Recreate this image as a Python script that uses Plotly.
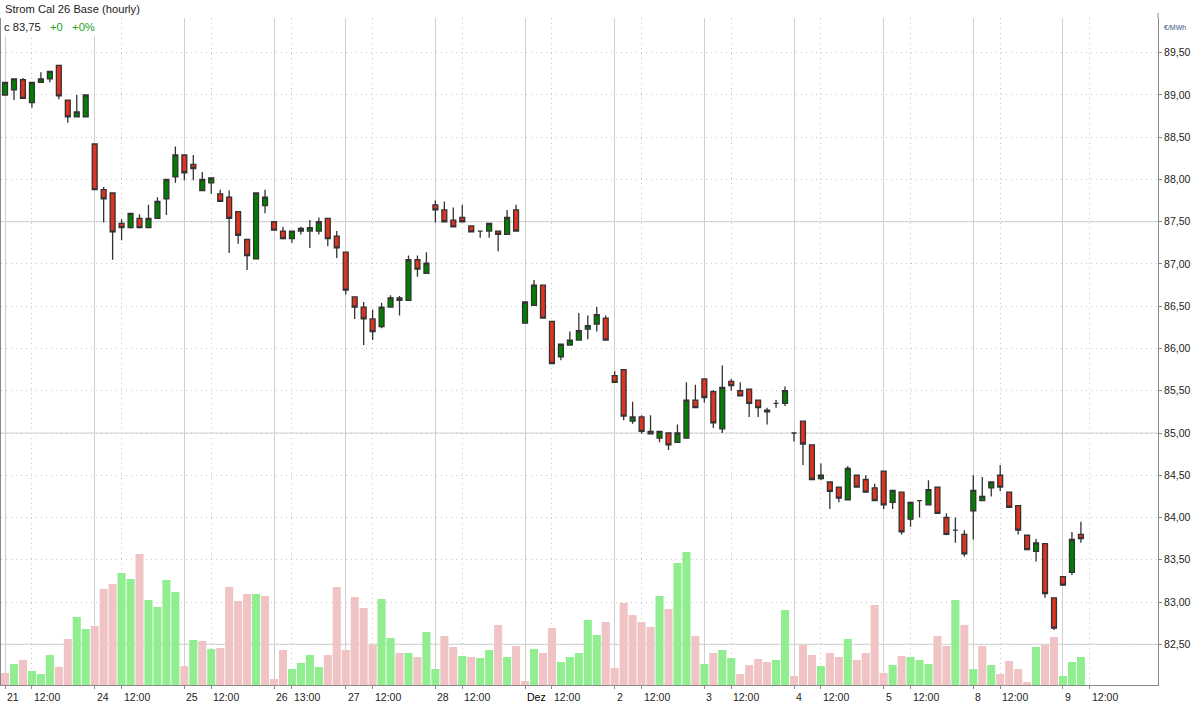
import plotly.graph_objects as go

# ---------------- data ----------------
title_text = "Strom Cal 26 Base (hourly)"
unit_text = "€/MWh"
last_close_label = "c 83,75"
change_abs_label = "+0"
change_pct_label = "+0%"

day_labels = ["21", "24", "25", "26", "27", "28", "Dez", "2", "3", "4", "5", "8", "9"]
day_dates = ["2025-11-21", "2025-11-24", "2025-11-25", "2025-11-26", "2025-11-27",
             "2025-11-28", "2025-12-01", "2025-12-02", "2025-12-03", "2025-12-04",
             "2025-12-05", "2025-12-08", "2025-12-09"]
first_hour = [9, 9, 9, 11, 9, 9, 9, 9, 9, 9, 9, 9, 9]
bars_per_day = [10, 10, 10, 8, 10, 10, 10, 10, 10, 10, 10, 10, 3]
mid_labels = ["12:00", "12:00", "12:00", "13:00", "12:00", "12:00", "12:00",
              "12:00", "12:00", "12:00", "12:00", "12:00", "12:00"]

price_ticks = [82.5, 83.0, 83.5, 84.0, 84.5, 85.0, 85.5, 86.0, 86.5, 87.0, 87.5, 88.0, 88.5, 89.0, 89.5]
price_ticktext = ["82,50", "83,00", "83,50", "84,00", "84,50", "85,00", "85,50", "86,00",
                  "86,50", "87,00", "87,50", "88,00", "88,50", "89,00", "89,50"]
major_price_levels = [82.5, 85.0, 87.5]

prev_close = 89.20

open_ = [
    89.00, 89.06, 89.18, 88.91, 89.15, 89.19, 89.35, 88.94, 88.74, 88.74,
    88.42, 87.88, 87.84, 87.48, 87.43, 87.54, 87.43, 87.54, 87.77, 88.03,
    88.29, 88.18, 87.87, 87.96, 87.83, 87.79, 87.62, 87.29, 87.06, 87.69,
    87.50, 87.39, 87.30, 87.39, 87.39, 87.39, 87.54, 87.33,
    87.14, 86.61, 86.49, 86.35, 86.26, 86.49, 86.60, 86.57, 87.05, 86.89,
    87.70, 87.64, 87.52, 87.55, 87.45, 87.39, 87.39, 87.39, 87.35, 87.64,
    86.30, 86.51, 86.75, 86.32, 85.90, 86.04, 86.10, 86.23, 86.29, 86.36,
    85.68, 85.75, 85.14, 85.19, 85.02, 84.94, 85.00, 84.89, 84.94, 85.39,
    85.64, 85.49, 85.05, 85.61, 85.50, 85.52, 85.39, 85.27, 85.35, 85.35,
    85.00, 85.14, 84.86, 84.46, 84.42, 84.36, 84.21, 84.50, 84.45, 84.35,
    84.55, 84.18, 84.30, 83.98, 84.20, 84.15, 84.36, 84.00, 83.85, 83.80,
    84.08, 84.20, 84.35, 84.50, 84.30, 84.14, 83.79, 83.60, 83.69, 83.05,
    83.30, 83.35, 83.80,
]
high = [
    89.15, 89.19, 89.20, 89.15, 89.27, 89.28, 89.35, 88.94, 89.00, 89.00,
    88.42, 87.91, 87.84, 87.53, 87.60, 87.59, 87.70, 87.79, 88.00, 88.39,
    88.29, 88.29, 88.09, 88.02, 87.88, 87.87, 87.62, 87.29, 87.84, 87.88,
    87.50, 87.44, 87.39, 87.44, 87.52, 87.55, 87.54, 87.39,
    87.14, 86.61, 86.55, 86.46, 86.54, 86.63, 86.62, 87.10, 87.10, 87.14,
    87.75, 87.74, 87.67, 87.70, 87.45, 87.39, 87.48, 87.39, 87.64, 87.70,
    86.55, 86.81, 86.75, 86.32, 86.05, 86.20, 86.42, 86.39, 86.49, 86.39,
    85.73, 85.75, 85.37, 85.21, 85.21, 85.02, 85.00, 85.10, 85.60, 85.57,
    85.64, 85.51, 85.80, 85.64, 85.60, 85.52, 85.39, 85.30, 85.39, 85.55,
    85.00, 85.14, 84.86, 84.64, 84.42, 84.36, 84.61, 84.50, 84.50, 84.40,
    84.55, 84.32, 84.30, 84.19, 84.20, 84.44, 84.36, 84.05, 84.00, 83.85,
    84.50, 84.48, 84.42, 84.62, 84.30, 84.14, 83.79, 83.75, 83.69, 83.05,
    83.30, 83.83, 83.95,
]
low = [
    89.00, 88.94, 88.96, 88.85, 89.15, 89.15, 88.95, 88.67, 88.74, 88.74,
    87.88, 87.49, 87.05, 87.28, 87.42, 87.42, 87.43, 87.54, 87.58, 87.96,
    87.99, 87.99, 87.87, 87.83, 87.74, 87.13, 87.24, 86.93, 87.06, 87.60,
    87.40, 87.29, 87.25, 87.35, 87.19, 87.35, 87.21, 87.07,
    86.64, 86.35, 86.04, 86.10, 86.24, 86.49, 86.39, 86.57, 86.85, 86.89,
    87.49, 87.50, 87.44, 87.50, 87.38, 87.31, 87.31, 87.15, 87.35, 87.39,
    86.30, 86.51, 86.36, 85.82, 85.86, 86.04, 86.10, 86.11, 86.20, 86.10,
    85.60, 85.15, 85.11, 84.99, 84.99, 84.89, 84.80, 84.89, 84.94, 85.30,
    85.36, 85.06, 85.00, 85.50, 85.44, 85.19, 85.19, 85.10, 85.30, 85.32,
    84.90, 84.62, 84.45, 84.44, 84.10, 84.18, 84.20, 84.36, 84.30, 84.20,
    84.10, 84.10, 83.80, 83.89, 84.00, 84.15, 84.05, 83.79, 83.70, 83.54,
    83.74, 84.20, 84.25, 84.31, 84.12, 83.80, 83.62, 83.48, 83.05, 82.67,
    83.19, 83.32, 83.70,
]
close = [
    89.15, 89.19, 88.96, 89.15, 89.19, 89.28, 88.99, 88.74, 88.80, 89.00,
    87.88, 87.77, 87.38, 87.43, 87.60, 87.43, 87.54, 87.74, 88.00, 88.29,
    88.08, 88.13, 88.00, 88.02, 87.74, 87.54, 87.34, 87.10, 87.84, 87.79,
    87.40, 87.30, 87.39, 87.42, 87.43, 87.50, 87.30, 87.19,
    86.69, 86.49, 86.35, 86.20, 86.49, 86.60, 86.57, 87.05, 86.94, 87.01,
    87.64, 87.50, 87.44, 87.50, 87.38, 87.39, 87.48, 87.35, 87.55, 87.39,
    86.55, 86.75, 86.36, 85.82, 86.05, 86.10, 86.21, 86.27, 86.40, 86.10,
    85.60, 85.20, 85.19, 85.02, 84.99, 85.02, 84.86, 85.00, 85.39, 85.30,
    85.42, 85.12, 85.54, 85.56, 85.44, 85.35, 85.30, 85.25, 85.35, 85.50,
    85.00, 84.87, 84.45, 84.50, 84.31, 84.23, 84.58, 84.36, 84.30, 84.20,
    84.15, 84.32, 83.83, 84.18, 84.20, 84.33, 84.05, 83.80, 83.85, 83.57,
    84.32, 84.25, 84.42, 84.36, 84.12, 83.85, 83.62, 83.70, 83.10, 82.69,
    83.20, 83.74, 83.75,
]
volume = [
    12, 21, 25, 14, 11, 30, 18, 46, 68, 56,
    59, 96, 101, 112, 106, 131, 85, 78, 105, 93,
    19, 45, 44, 36, 37, 98, 84, 91, 91, 89,
    6, 35, 16, 22, 30, 18, 30, 98,
    35, 88, 77, 40, 86, 47, 32, 32, 28, 53,
    16, 49, 38, 29, 28, 27, 35, 60, 28, 39,
    4, 36, 32, 57, 23, 28, 32, 65, 50, 63,
    17, 82, 70, 63, 58, 89, 76, 122, 133, 49,
    21, 32, 35, 27, 11, 20, 26, 23, 25, 75,
    9, 40, 30, 19, 32, 28, 46, 25, 32, 80,
    12, 20, 29, 28, 25, 21, 49, 39, 85, 60,
    16, 39, 20, 11, 24, 16, 3, 38, 40, 48,
    9, 23, 28,
]

# ---------------- styles ----------------
FONT = "Liberation Sans, Arial, sans-serif"
UP_FILL = "#008000"
DOWN_FILL = "#dd3322"
OUTLINE = "#333333"
VOL_UP = "#90ee90"
VOL_DOWN = "#f0c4c4"
AXIS_COLOR = "#8a8a8a"
GRID_SOLID = "#d0d0d0"
GRID_DOT = "#c4c4c4"
DOT = "1px,4px"
TEXT = "#222222"
GREEN_TEXT = "#1fa01f"

W, H = 1200, 705
ML, MR, MT, MB = 1, 42, 18, 20
PW, PH = W - ML - MR, H - MT - MB

# ---------------- derived ----------------
n = len(close)
x = list(range(n))
day_start = []
timestamps = []
pos = 0
for d, cnt, fh in zip(day_dates, bars_per_day, first_hour):
    day_start.append(pos)
    for k in range(cnt):
        timestamps.append(f"{d} {fh + k:02d}:00")
    pos += cnt
mid_pos = [s + int(lbl.split(":")[0]) - fh for s, lbl, fh in zip(day_start, mid_labels, first_hour)]

vol_colors = []
pc = prev_close
for c in close:
    vol_colors.append(VOL_UP if c > pc else VOL_DOWN)
    pc = c

x_range = [-0.45, 128.6]
price_range = [82.018, 89.911]
vol_range = [0, 667]


def px_x(px):
    return (px - ML) / PW


def px_y(py):
    return 1 - (py - MT) / PH


# ---------------- figure ----------------
fig = go.Figure()
fig.add_trace(go.Bar(
    x=x, y=volume, yaxis="y2", width=0.9,
    marker=dict(color=vol_colors, line=dict(width=0)),
    hovertext=timestamps, hoverinfo="text+y", showlegend=False,
))
fig.add_trace(go.Candlestick(
    x=x, open=open_, high=high, low=low, close=close, yaxis="y",
    increasing=dict(fillcolor=UP_FILL, line=dict(color=OUTLINE, width=1.3)),
    decreasing=dict(fillcolor=DOWN_FILL, line=dict(color=OUTLINE, width=1.3)),
    whiskerwidth=0, text=timestamps, showlegend=False,
))

shapes = []
for lvl in major_price_levels:
    shapes.append(dict(type="line", xref="x domain", x0=0, x1=1, yref="y", y0=lvl, y1=lvl,
                       line=dict(color=GRID_SOLID, width=1), layer="below"))
# right axis line extends slightly above plot area
shapes.append(dict(type="line", xref="paper", x0=1, x1=1, yref="paper", y0=1, y1=px_y(13),
                   line=dict(color=AXIS_COLOR, width=1)))

annotations = []
for lbl, p in zip(day_labels, day_start):
    annotations.append(dict(x=p, xref="x", y=0, yref="paper", yshift=-12, text=lbl,
                            xanchor="left", yanchor="middle", showarrow=False,
                            font=dict(size=10.5, color="#000000" if lbl == "Dez" else TEXT, family=FONT)))
for lbl, p in zip(mid_labels, mid_pos):
    annotations.append(dict(x=p, xref="x", y=0, yref="paper", yshift=-12, text=lbl,
                            xanchor="left", yanchor="middle", showarrow=False,
                            font=dict(size=10.5, color=TEXT, family=FONT)))
annotations.append(dict(x=px_x(3), xref="paper", y=px_y(9), yref="paper", text=title_text,
                        xanchor="left", yanchor="middle", showarrow=False,
                        font=dict(size=11.2, color=TEXT, family=FONT)))
annotations.append(dict(x=px_x(1), xref="paper", y=px_y(27), yref="paper",
                        text=f"{last_close_label}&nbsp;&nbsp;&nbsp;<span style='color:{GREEN_TEXT}'>{change_abs_label}&nbsp;&nbsp;&nbsp;{change_pct_label}</span>",
                        xanchor="left", yanchor="middle", showarrow=False, bgcolor="white", borderpad=2,
                        font=dict(size=11.2, color=TEXT, family=FONT)))
annotations.append(dict(x=1, xref="paper", xshift=4, y=px_y(28), yref="paper", text=unit_text,
                        xanchor="left", yanchor="middle", showarrow=False,
                        font=dict(size=7, color="#3a5580", family=FONT)))

fig.update_layout(
    width=W, height=H, margin=dict(l=ML, r=MR, t=MT, b=MB, pad=0),
    paper_bgcolor="white", plot_bgcolor="white",
    font=dict(family=FONT, size=10, color=TEXT),
    showlegend=False, boxgap=0.22, bargap=0.1, hovermode="closest",
    xaxis=dict(range=x_range, tickmode="array", tickvals=day_start, showticklabels=False,
               ticks="outside", ticklen=3, tickcolor=AXIS_COLOR, tickwidth=1,
               showline=True, linecolor=AXIS_COLOR, linewidth=1,
               showgrid=True, gridcolor=GRID_SOLID, gridwidth=1, zeroline=False,
               rangeslider=dict(visible=False),
               minor=dict(tickmode="array", tickvals=mid_pos, ticks="outside", ticklen=3,
                          tickcolor=AXIS_COLOR, showgrid=True, gridcolor=GRID_DOT, gridwidth=1,
                          griddash=DOT)),
    yaxis=dict(side="right", range=price_range, tickmode="array",
               tickvals=price_ticks, ticktext=price_ticktext, ticks="outside", ticklen=3,
               tickcolor=AXIS_COLOR, showline=True, linecolor=AXIS_COLOR, linewidth=1,
               showgrid=True, gridcolor=GRID_DOT, gridwidth=1, griddash=DOT, zeroline=False,
               tickfont=dict(size=10.5, color=TEXT, family=FONT)),
    yaxis2=dict(overlaying="y", range=vol_range, side="left", showline=True, linecolor=AXIS_COLOR,
                linewidth=1, showgrid=False, showticklabels=False, ticks="", zeroline=False),
    shapes=shapes, annotations=annotations,
)

fig.write_html("out.html", config={"displayModeBar": False},
               post_script="document.body.style.margin='0';document.body.style.overflow='hidden';")
